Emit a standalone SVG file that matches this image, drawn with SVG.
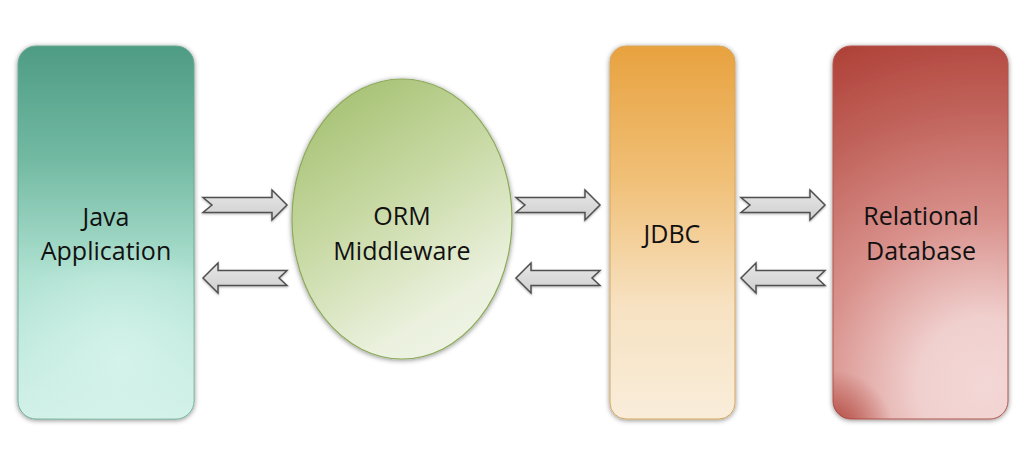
<svg xmlns="http://www.w3.org/2000/svg" xmlns:xlink="http://www.w3.org/1999/xlink" width="1028" height="462" viewBox="0 0 1028 462">
  <defs>
    <style>
      .lbl { font-family: "Open Sans", "Liberation Sans", sans-serif; font-size: 25px; fill: #111111; text-anchor: middle; }
      .arrow { fill: url(#gArrow); stroke: #505050; stroke-width: 1.5; stroke-linejoin: miter; }
    </style>
    <filter id="shadow" x="-20%" y="-20%" width="140%" height="140%">
      <feDropShadow dx="0" dy="1" stdDeviation="2.5" flood-color="#000" flood-opacity="0.45"/>
    </filter>
    <filter id="ashadow" x="-20%" y="-40%" width="140%" height="180%">
      <feDropShadow dx="0" dy="1" stdDeviation="1.2" flood-color="#000" flood-opacity="0.3"/>
    </filter>
    <linearGradient id="gJava" x1="0" y1="0" x2="0" y2="1">
      <stop offset="0" stop-color="#4e9c83"/>
      <stop offset="0.3" stop-color="#72b9a2"/>
      <stop offset="0.62" stop-color="#b0e2d2"/>
      <stop offset="1" stop-color="#d2f1e8"/>
    </linearGradient>
    <radialGradient id="gJavaHi" gradientUnits="userSpaceOnUse" cx="120" cy="360" r="120">
      <stop offset="0" stop-color="#d6f4eb" stop-opacity="0.9"/>
      <stop offset="1" stop-color="#d6f4eb" stop-opacity="0"/>
    </radialGradient>
    <linearGradient id="gOrm" x1="0.2" y1="0" x2="0.7" y2="1">
      <stop offset="0" stop-color="#a4c070"/>
      <stop offset="0.45" stop-color="#c9daa6"/>
      <stop offset="0.85" stop-color="#ebf1de"/>
      <stop offset="1" stop-color="#eef3e4"/>
    </linearGradient>
    <linearGradient id="gJdbc" x1="0" y1="0" x2="0" y2="1">
      <stop offset="0" stop-color="#e8a23f"/>
      <stop offset="0.35" stop-color="#f0bf76"/>
      <stop offset="0.7" stop-color="#f7e2c2"/>
      <stop offset="1" stop-color="#f9edda"/>
    </linearGradient>
    <radialGradient id="gRel" gradientUnits="userSpaceOnUse" cx="985" cy="385" r="370">
      <stop offset="0" stop-color="#f3d7d6"/>
      <stop offset="0.18" stop-color="#f0d0ce"/>
      <stop offset="0.45" stop-color="#d9918c"/>
      <stop offset="0.75" stop-color="#c0625a"/>
      <stop offset="1" stop-color="#ae4036"/>
    </radialGradient>
    <radialGradient id="gRelCorner" gradientUnits="userSpaceOnUse" cx="833" cy="430" r="60">
      <stop offset="0" stop-color="#a93a30" stop-opacity="0.9"/>
      <stop offset="1" stop-color="#a93a30" stop-opacity="0"/>
    </radialGradient>
    <linearGradient id="gArrow" x1="0" y1="0" x2="0" y2="1">
      <stop offset="0" stop-color="#e6e6e6"/>
      <stop offset="1" stop-color="#cfcfcf"/>
    </linearGradient>
    <path id="arrR" d="M0,-7.5 L69,-7.5 L69,-15 L84,0 L69,15 L69,7.5 L0,7.5 L9,0 Z"/>
    <path id="arrL" d="M0,0 L15,-15 L15,-7.5 L84,-7.5 L76,0 L84,7.5 L15,7.5 L15,15 Z"/>
  </defs>

  <rect width="1028" height="462" fill="#ffffff"/>

  <g id="connectors">
    <use xlink:href="#arrR" href="#arrR" class="arrow" filter="url(#ashadow)" transform="translate(203,205)"/>
    <use xlink:href="#arrL" href="#arrL" class="arrow" filter="url(#ashadow)" transform="translate(203,278)"/>
    <use xlink:href="#arrR" href="#arrR" class="arrow" filter="url(#ashadow)" transform="translate(516,205)"/>
    <use xlink:href="#arrL" href="#arrL" class="arrow" filter="url(#ashadow)" transform="translate(516,278)"/>
    <use xlink:href="#arrR" href="#arrR" class="arrow" filter="url(#ashadow)" transform="translate(741,205)"/>
    <use xlink:href="#arrL" href="#arrL" class="arrow" filter="url(#ashadow)" transform="translate(741,278)"/>
  </g>

  <g id="java-application">
    <rect x="18" y="46" width="176" height="373" rx="18" ry="18" fill="url(#gJava)" stroke="#6aa894" stroke-width="1" filter="url(#shadow)"/>
    <rect x="18" y="46" width="176" height="373" rx="18" ry="18" fill="url(#gJavaHi)"/>
    <text class="lbl" x="106" y="226">Java</text>
    <text class="lbl" x="106" y="260">Application</text>
  </g>

  <g id="orm-middleware">
    <ellipse cx="402" cy="219" rx="110" ry="140" fill="url(#gOrm)" stroke="#8daa5c" stroke-width="1.2" filter="url(#shadow)"/>
    <text class="lbl" x="402" y="225">ORM</text>
    <text class="lbl" x="402" y="260">Middleware</text>
  </g>

  <g id="jdbc">
    <rect x="610" y="46" width="125" height="373" rx="16" ry="16" fill="url(#gJdbc)" stroke="#d6a55f" stroke-width="1" filter="url(#shadow)"/>
    <text class="lbl" x="672" y="243">JDBC</text>
  </g>

  <g id="relational-database">
    <rect x="833" y="46" width="175" height="373" rx="18" ry="18" fill="url(#gRel)" stroke="#b0574e" stroke-width="1" filter="url(#shadow)"/>
    <rect x="833" y="46" width="175" height="373" rx="18" ry="18" fill="url(#gRelCorner)"/>
    <text class="lbl" x="921" y="225">Relational</text>
    <text class="lbl" x="921" y="260">Database</text>
  </g>
</svg>
